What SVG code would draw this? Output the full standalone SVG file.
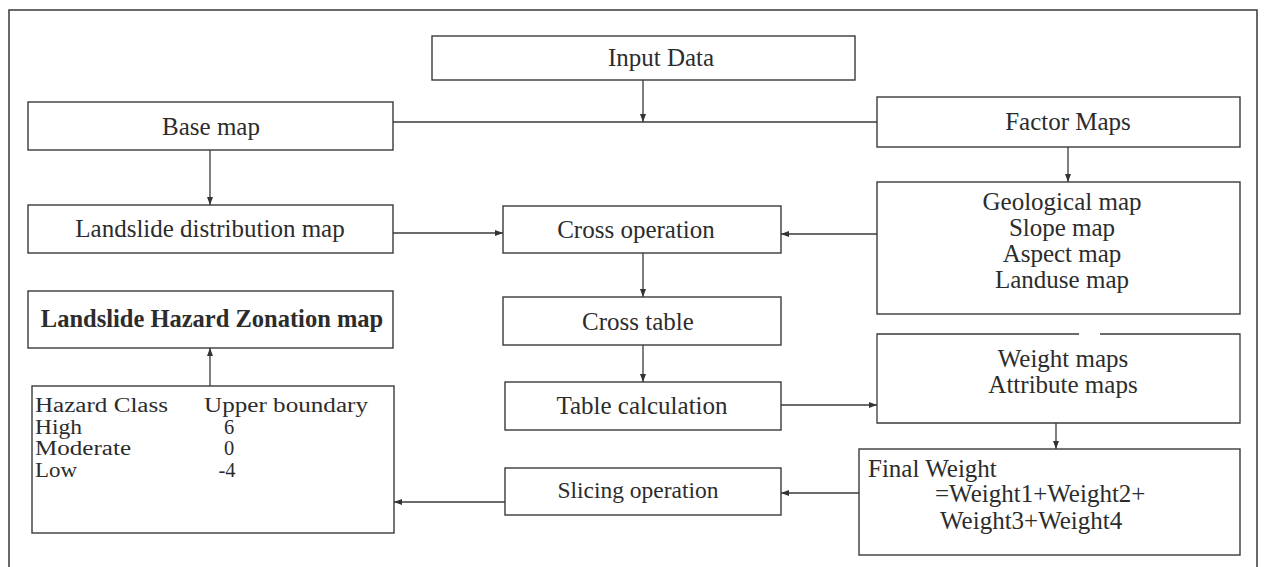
<svg xmlns="http://www.w3.org/2000/svg" width="1266" height="567" viewBox="0 0 1266 567">
<defs>
<marker id="arr" viewBox="0 0 8 6" refX="8" refY="3" markerWidth="8" markerHeight="6" markerUnits="userSpaceOnUse" orient="auto">
<path d="M0,0 L8,3 L0,6 z" fill="#333"/>
</marker>
<style>
.box{fill:#fff;stroke:#3a3a3a;stroke-width:1.4}
.t{font-family:"Liberation Serif","Times New Roman",serif;font-size:25px;fill:#2c2c2c}
.c{text-anchor:middle}
.b{font-weight:bold;font-size:24.5px}
.h{font-size:20.5px}
.ln{fill:none;stroke:#3a3a3a;stroke-width:1.3}
.ar{fill:none;stroke:#3a3a3a;stroke-width:1.3;marker-end:url(#arr)}
</style>
</defs>
<rect width="1266" height="567" fill="#fff"/>
<rect x="9" y="10" width="1248" height="600" fill="none" stroke="#444" stroke-width="1.6"/>

<g id="connectors">
<line class="ln" x1="393" y1="122" x2="877" y2="122"/>
<line class="ar" x1="643" y1="80" x2="643" y2="122"/>
<line class="ar" x1="210" y1="150" x2="210" y2="205"/>
<line class="ar" x1="1068" y1="147" x2="1068" y2="182"/>
<line class="ar" x1="393" y1="233" x2="503" y2="233"/>
<line class="ar" x1="877" y1="234" x2="781" y2="234"/>
<line class="ar" x1="643" y1="253" x2="643" y2="297"/>
<line class="ar" x1="643" y1="345" x2="643" y2="382"/>
<line class="ar" x1="781" y1="405" x2="877" y2="405"/>
<line class="ar" x1="1056" y1="423" x2="1056" y2="449"/>
<line class="ar" x1="859" y1="493" x2="781" y2="493"/>
<line class="ar" x1="505" y1="502" x2="394" y2="502"/>
<line class="ar" x1="210" y1="386" x2="210" y2="348"/>
</g>

<g id="input-data">
<rect class="box" x="432" y="36" width="423" height="44"/>
<text class="t c" x="661" y="66">Input Data</text>
</g>

<g id="base-map">
<rect class="box" x="28" y="102" width="365" height="48"/>
<text class="t c" x="211" y="135">Base map</text>
</g>

<g id="factor-maps">
<rect class="box" x="877" y="97" width="363" height="50"/>
<text class="t c" x="1068" y="130">Factor Maps</text>
</g>

<g id="factor-list">
<rect class="box" x="877" y="182" width="363" height="132"/>
<text class="t c" x="1062" y="210">Geological map</text>
<text class="t c" x="1062" y="236">Slope map</text>
<text class="t c" x="1062" y="262">Aspect map</text>
<text class="t c" x="1062" y="288">Landuse map</text>
</g>

<g id="landslide-distribution">
<rect class="box" x="28" y="205" width="365" height="48"/>
<text class="t c" x="210" y="237">Landslide distribution map</text>
</g>

<g id="cross-operation">
<rect class="box" x="503" y="206" width="278" height="47"/>
<text class="t c" x="636" y="238">Cross operation</text>
</g>

<g id="cross-table">
<rect class="box" x="503" y="297" width="278" height="48"/>
<text class="t c" x="638" y="330">Cross table</text>
</g>

<g id="lhz-map">
<rect class="box" x="28" y="291" width="365" height="57"/>
<text class="t c b" x="212" y="327">Landslide Hazard Zonation map</text>
</g>

<g id="table-calculation">
<rect class="box" x="505" y="382" width="276" height="48"/>
<text class="t c" x="642" y="414">Table calculation</text>
</g>

<g id="weight-maps">
<rect x="877" y="334" width="363" height="89" fill="#fff" stroke="none"/>
<path class="ln" d="M1079,334 H877 V423 H1240 V334 H1100"/>
<text class="t c" x="1063" y="367">Weight maps</text>
<text class="t c" x="1063" y="393">Attribute maps</text>
</g>

<g id="final-weight">
<rect class="box" x="859" y="449" width="381" height="106"/>
<text class="t" x="868" y="477">Final Weight</text>
<text class="t" x="935" y="502">=Weight1+Weight2+</text>
<text class="t" x="940" y="529">Weight3+Weight4</text>
</g>

<g id="slicing-operation">
<rect class="box" x="505" y="468" width="276" height="47"/>
<text class="t c" x="638" y="498" style="font-size:23.5px">Slicing operation</text>
</g>

<g id="hazard-class">
<rect class="box" x="32" y="386" width="362" height="147"/>
<text class="t h" x="35" y="412" textLength="133" lengthAdjust="spacingAndGlyphs">Hazard Class</text>
<text class="t h" x="204" y="412" textLength="164" lengthAdjust="spacingAndGlyphs">Upper boundary</text>
<text class="t h" x="35" y="434" textLength="47" lengthAdjust="spacingAndGlyphs">High</text>
<text class="t h c" x="229" y="434">6</text>
<text class="t h" x="35" y="455" textLength="96" lengthAdjust="spacingAndGlyphs">Moderate</text>
<text class="t h c" x="229" y="455">0</text>
<text class="t h" x="35" y="477" textLength="42" lengthAdjust="spacingAndGlyphs">Low</text>
<text class="t h c" x="227" y="477">-4</text>
</g>
</svg>
